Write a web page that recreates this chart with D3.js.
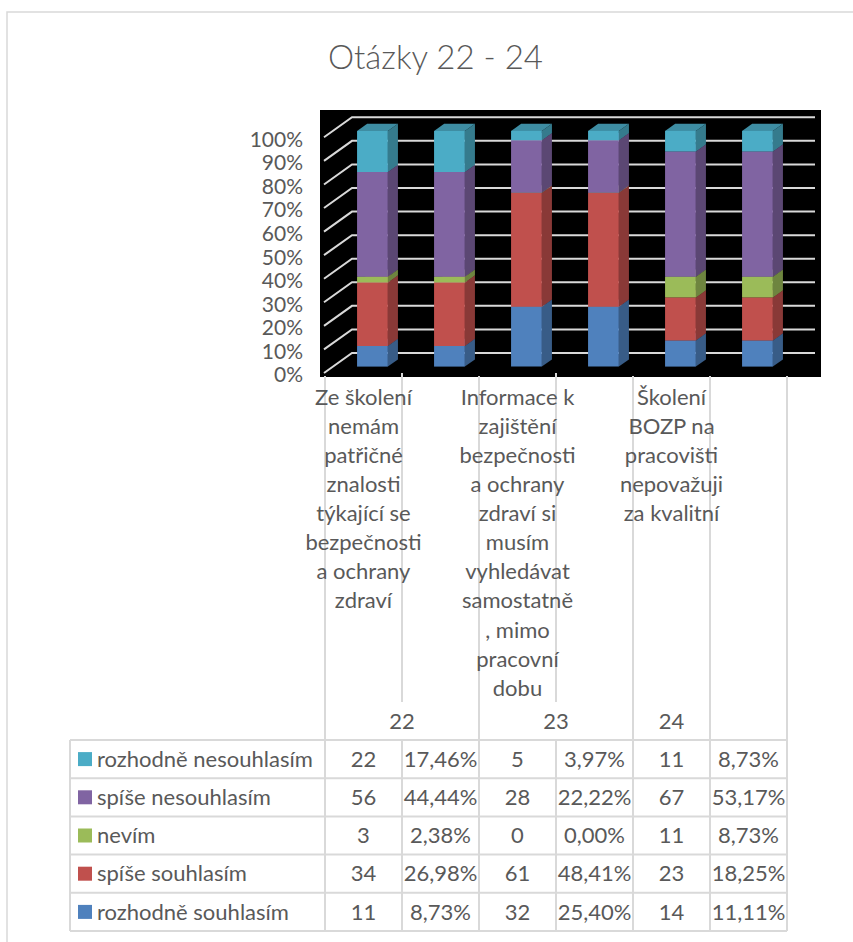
<!DOCTYPE html>
<html><head><meta charset="utf-8">
<script src="https://cdn.jsdelivr.net/npm/d3@7"></script>
<style>
body{margin:0;background:#fff;}
svg{display:block;font-family:Lato,"Open Sans",sans-serif;}
</style>
</head><body>
<svg id="c" width="853" height="942"></svg>
<script>
// ---------- data ----------
const chartTitle = "Otázky 22 - 24";
const questions = ["22", "23", "24"];
const questionTexts = [
  ["Ze školení", "nemám", "patřičné", "znalosti", "týkající se", "bezpečnosti", "a ochrany", "zdraví"],
  ["Informace k", "zajištění", "bezpečnosti", "a ochrany", "zdraví si", "musím", "vyhledávat", "samostatně", ", mimo", "pracovní", "dobu"],
  ["Školení", "BOZP na", "pracovišti", "nepovažuji", "za kvalitní"]
];
// series, bottom of the stack first
const seriesNames = ["rozhodně souhlasím", "spíše souhlasím", "nevím", "spíše nesouhlasím", "rozhodně nesouhlasím"];
const seriesColors = ["#4F81BD", "#C0504D", "#9BBB59", "#8064A2", "#4BACC6"];
const rozhodneSouhlasim = [11, 32, 14];
const rozhodneSouhlasimPct = ["8,73%", "25,40%", "11,11%"];
const spiseSouhlasim = [34, 61, 23];
const spiseSouhlasimPct = ["26,98%", "48,41%", "18,25%"];
const nevim = [3, 0, 11];
const nevimPct = ["2,38%", "0,00%", "8,73%"];
const spiseNesouhlasim = [56, 28, 67];
const spiseNesouhlasimPct = ["44,44%", "22,22%", "53,17%"];
const rozhodneNesouhlasim = [22, 5, 11];
const rozhodneNesouhlasimPct = ["17,46%", "3,97%", "8,73%"];
const yTicks = [0, 0.1, 0.2, 0.3, 0.4, 0.5, 0.6, 0.7, 0.8, 0.9, 1];
const yTickLabels = ["0%", "10%", "20%", "30%", "40%", "50%", "60%", "70%", "80%", "90%", "100%"];

const seriesCounts = [rozhodneSouhlasim, spiseSouhlasim, nevim, spiseNesouhlasim, rozhodneNesouhlasim];
const seriesPcts = [rozhodneSouhlasimPct, spiseSouhlasimPct, nevimPct, spiseNesouhlasimPct, rozhodneNesouhlasimPct];
const pctNum = s => +s.replace("%", "").replace(",", ".");

// six columns: count / percent for each question
const columns = d3.range(6).map(c => {
  const q = Math.floor(c / 2);
  const vals = seriesCounts.map((arr, s) => c % 2 === 0 ? arr[q] : pctNum(seriesPcts[s][q]));
  const tot = d3.sum(vals);
  let acc = 0;
  return vals.map((v, s) => { const b = acc / tot; acc += v; return {s, b, t: acc / tot}; });
});

// ---------- layout ----------
const svg = d3.select("#c");
const TXT = "#595959", GRID = "#D9D9D9";
const colX = d3.scaleBand().domain(d3.range(6)).range([325, 787]);
const barX = d3.scaleBand().domain(d3.range(6)).range([325, 787]).paddingInner(0.6).paddingOuter(0.3);
const yFront = d3.scaleLinear().domain([0, 1]).range([373, 137.3]);
const DX = 28, DY = 20;
const P = (x, v, z) => [x + z * DX, yFront(v) - z * DY];
const poly = pts => "M" + pts.map(p => p.join(",")).join("L") + "Z";

// outer frame
svg.append("path").attr("d", "M7,942V12H853").attr("fill", "none").attr("stroke", GRID).attr("stroke-width", 1.5);

// title
svg.append("text").attr("x", 435.5).attr("y", 57).attr("text-anchor", "middle").attr("dy", "0.35em")
  .attr("font-size", 33).attr("font-weight", 300).attr("fill", TXT).text(chartTitle);

// plot background
svg.append("rect").attr("x", 320).attr("y", 110).attr("width", 501).attr("height", 267).attr("fill", "#000");

// gridlines (side wall + back wall)
const wallX = 324, backEnd = 787;
const g = svg.append("g").attr("stroke", GRID).attr("stroke-width", 2).attr("fill", "none");
yTicks.forEach(v => {
  g.append("path").attr("d", "M" + P(wallX, v, 0).join(",") + "L" + P(wallX, v, 1).join(",") + "L" + P(backEnd, v, 1).join(","));
});

// y labels
svg.append("g").selectAll("text").data(yTicks).join("text")
  .attr("x", 303).attr("y", v => yFront(v) + 2).attr("dy", "0.35em").attr("text-anchor", "end")
  .attr("font-size", 21).attr("fill", TXT).text((v, i) => yTickLabels[i]);

// 3D bars
const z0 = 0.32, z1 = 0.68;
const bars = svg.append("g");
columns.forEach((segs, c) => {
  const x0 = barX(c), x1 = x0 + barX.bandwidth();
  segs.forEach(d => {
    const col = d3.rgb(seriesColors[d.s]);
    bars.append("path").attr("d", poly([P(x1, d.b, z0), P(x1, d.b, z1), P(x1, d.t, z1), P(x1, d.t, z0)]))
      .attr("fill", col.darker(0.95));
    bars.append("path").attr("d", poly([P(x0, d.t, z0), P(x1, d.t, z0), P(x1, d.t, z1), P(x0, d.t, z1)]))
      .attr("fill", col.darker(0.55));
    bars.append("path").attr("d", poly([P(x0, d.b, z0), P(x1, d.b, z0), P(x1, d.t, z0), P(x0, d.t, z0)]))
      .attr("fill", col);
  });
});

// category lines
const tableTop = 740, rowH = 38.2, tableBot = tableTop + rowH * 5, headTop = 702;
const lines = svg.append("g").attr("stroke", GRID).attr("stroke-width", 2);
d3.range(7).forEach(i => {
  const x = 325 + colX.step() * i;
  if (i === 1 || i === 3) {
    lines.append("line").attr("x1", x).attr("x2", x).attr("y1", 373).attr("y2", headTop);
    lines.append("line").attr("x1", x).attr("x2", x).attr("y1", tableTop).attr("y2", tableBot);
  } else {
    lines.append("line").attr("x1", x).attr("x2", x).attr("y1", 376).attr("y2", tableBot);
  }
});

// category labels (inner level)
questionTexts.forEach((ls, q) => {
  const cx = colX(q * 2) + colX.bandwidth() / 2;
  svg.append("text").attr("font-size", 22).attr("fill", TXT).attr("text-anchor", "middle")
    .selectAll("tspan").data(ls).join("tspan")
    .attr("x", cx).attr("y", (d, i) => 397 + i * 29.1).attr("dy", "0.35em").text(d => d);
});

// outer level labels
questions.forEach((q, i) => {
  const cx = i < 2 ? colX(i * 2) + colX.step() : colX(4) + colX.bandwidth() / 2;
  svg.append("text").attr("x", cx).attr("y", 721).attr("dy", "0.35em").attr("text-anchor", "middle")
    .attr("font-size", 22).attr("fill", TXT).text(q);
});

// data table
const tl = svg.append("g").attr("stroke", GRID).attr("stroke-width", 2);
d3.range(6).forEach(k => tl.append("line").attr("x1", 70).attr("x2", 787).attr("y1", tableTop + k * rowH).attr("y2", tableTop + k * rowH));
tl.append("line").attr("x1", 70).attr("x2", 70).attr("y1", tableTop).attr("y2", tableBot);

const rowOrder = [4, 3, 2, 1, 0];
rowOrder.forEach((s, r) => {
  const cy = tableTop + rowH * r + rowH / 2;
  svg.append("rect").attr("x", 78).attr("y", cy - 7).attr("width", 14).attr("height", 14).attr("fill", seriesColors[s]);
  svg.append("text").attr("x", 97).attr("y", cy).attr("dy", "0.35em").attr("font-size", 22).attr("fill", TXT).text(seriesNames[s]);
  d3.range(6).forEach(c => {
    const q = Math.floor(c / 2);
    const t = c % 2 === 0 ? String(seriesCounts[s][q]) : seriesPcts[s][q];
    svg.append("text").attr("x", colX(c) + colX.bandwidth() / 2).attr("y", cy).attr("dy", "0.35em")
      .attr("text-anchor", "middle").attr("font-size", 22).attr("fill", TXT).text(t);
  });
});
</script>
</body></html>
